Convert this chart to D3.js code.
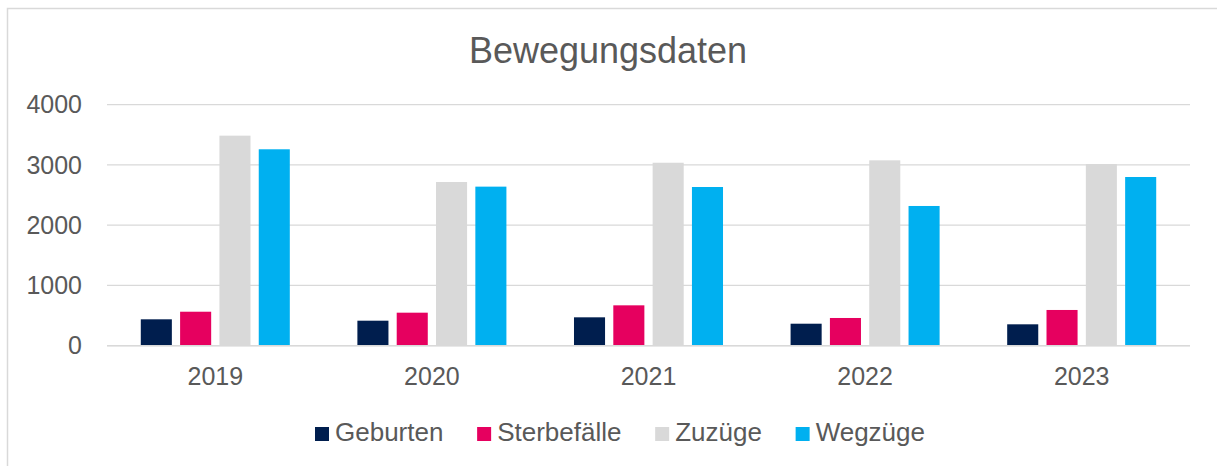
<!DOCTYPE html>
<html><head><meta charset="utf-8">
<script src="https://cdn.jsdelivr.net/npm/d3@7"></script>
<style>html,body{margin:0;padding:0;background:#fff;}svg{display:block;font-family:"Liberation Sans",Arial,sans-serif;}</style>
</head><body><svg id="c" width="1217" height="466"></svg>
<script>
const years = ["2019","2020","2021","2022","2023"];
const seriesNames = ["Geburten","Sterbefälle","Zuzüge","Wegzüge"];
const seriesColors = ["#001E4E","#E6005F","#D9D9D9","#00B0F0"];
const geburten = [438, 415, 471, 365, 355];
const sterbefaelle = [564, 548, 670, 460, 593];
const zuzuege = [3486, 2717, 3037, 3077, 3016];
const wegzuege = [3260, 2640, 2634, 2319, 2800];
const yTicks = [0, 1000, 2000, 3000, 4000];
const title = "Bewegungsdaten";

(function(){
const values = [geburten, sterbefaelle, zuzuege, wegzuege];
const svg = d3.select("#c");
const textColor = "#595959";
const gridColor = "#D9D9D9";

// chart border
svg.append("rect").attr("x",7.5).attr("y",8.5).attr("width",1240).attr("height",480)
  .attr("fill","none").attr("stroke","#D9D9D9").attr("stroke-width",1.5);

const pLeft = 107, pRight = 1190, pTop = 104.7, pBottom = 345.7;
const y = d3.scaleLinear().domain([0,4000]).range([pBottom, pTop]);
const x0 = d3.scaleBand().domain(years).range([pLeft,pRight]).paddingInner(0.312).paddingOuter(0.156);
const x1 = d3.scaleBand().domain(seriesNames).range([0, x0.bandwidth()]).paddingInner(0.21).paddingOuter(0);

// gridlines
svg.append("g").selectAll("line").data(yTicks).join("line")
  .attr("x1",pLeft).attr("x2",pRight).attr("y1",d=>y(d)).attr("y2",d=>y(d))
  .attr("stroke",gridColor).attr("stroke-width",1.3);

// y labels
svg.append("g").selectAll("text").data(yTicks).join("text")
  .attr("x",82).attr("y",d=>y(d)).attr("dy","0.35em").attr("text-anchor","end")
  .attr("fill",textColor).style("font-size","25px").text(d=>d);

// bars
const g = svg.append("g");
years.forEach((yr,i)=>{
  seriesNames.forEach((s,j)=>{
    g.append("rect").datum(values[j][i])
      .attr("x", x0(yr)+x1(s)).attr("width", x1.bandwidth())
      .attr("y", d=>y(d)).attr("height", d=>y(0)-y(d))
      .attr("fill", seriesColors[j]);
  });
});

// baseline
svg.append("line").attr("x1",pLeft).attr("x2",pRight).attr("y1",y(0)).attr("y2",y(0))
  .attr("stroke",gridColor).attr("stroke-width",1.5);

// x labels
svg.append("g").selectAll("text").data(years).join("text")
  .attr("x",d=>x0(d)+x0.bandwidth()/2).attr("y",385).attr("text-anchor","middle")
  .attr("fill",textColor).style("font-size","25px").text(d=>d);

// title
svg.append("text").attr("x",608).attr("y",63).attr("text-anchor","middle")
  .attr("fill",textColor).style("font-size","36px").text(title);

// legend
const lg = svg.append("g");
const items = seriesNames.map((s,i)=>{
  const it = lg.append("g");
  it.append("rect").attr("x",0).attr("y",427).attr("width",14).attr("height",14).attr("fill",seriesColors[i]);
  const t = it.append("text").attr("x",20).attr("y",441).attr("fill",textColor).style("font-size","26px").text(s);
  return {it, w: 20 + t.node().getComputedTextLength()};
});
const startX = 315, endX = 925;
const gap = (endX - startX - d3.sum(items,d=>d.w)) / (items.length-1);
let cx = startX;
items.forEach(d=>{ d.it.attr("transform",`translate(${cx},0)`); cx += d.w + gap; });
})();
</script></body></html>
